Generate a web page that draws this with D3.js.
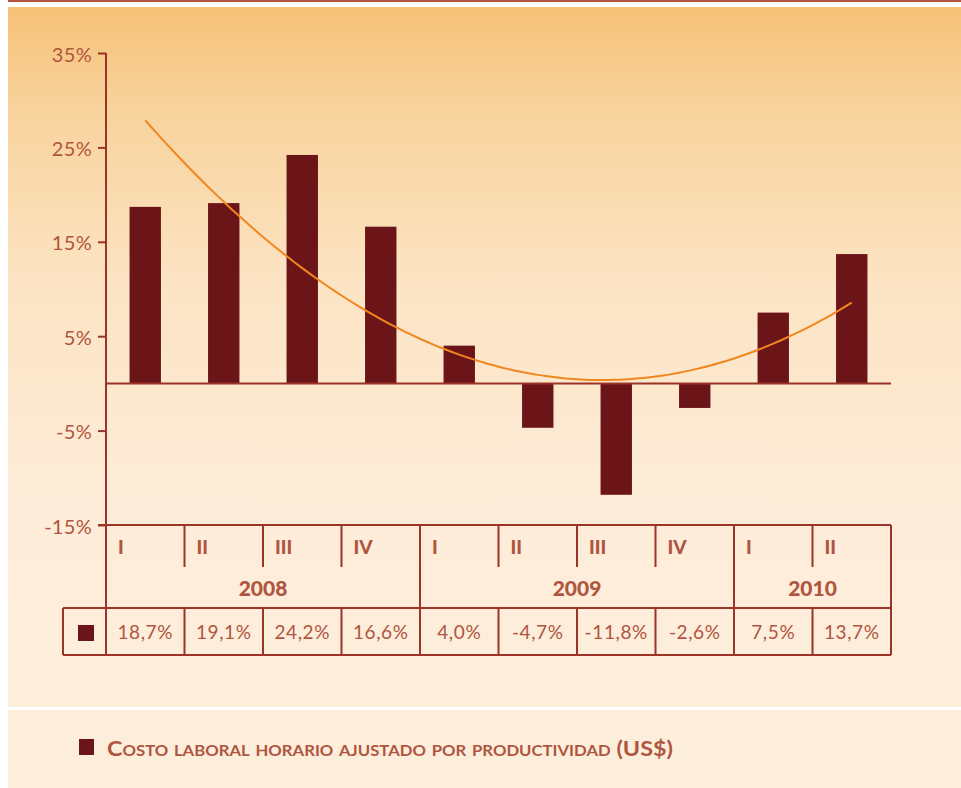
<!DOCTYPE html>
<html>
<head>
<meta charset="utf-8">
<script src="https://cdn.jsdelivr.net/npm/d3@7"></script>
<style>
  body { margin: 0; background: #fff; }
  svg { display: block; }
  text { font-family: Lato, "Open Sans", sans-serif; }
</style>
</head>
<body>
<script>
// chart data
const quarters = ["I", "II", "III", "IV", "I", "II", "III", "IV", "I", "II"];
const years = ["2008", "2008", "2008", "2008", "2009", "2009", "2009", "2009", "2010", "2010"];
const values = [18.7, 19.1, 24.2, 16.6, 4.0, -4.7, -11.8, -2.6, 7.5, 13.7];
const yTicks = [-15, -5, 5, 15, 25, 35];
const legendLabel = "Costo laboral horario ajustado por productividad (US$)";

const width = 961, height = 788;
const barColor = "#6b1519", lineColor = "#9b3328", textColor = "#b0553f";

const svg = d3.select("body").append("svg")
  .attr("width", width)
  .attr("height", height);

// background panels
const grad = svg.append("defs").append("linearGradient")
  .attr("id", "bg").attr("x1", 0).attr("x2", 0).attr("y1", 0).attr("y2", 1);
grad.append("stop").attr("offset", "0%").attr("stop-color", "#f6c177");
grad.append("stop").attr("offset", "15%").attr("stop-color", "#f8d39d");
grad.append("stop").attr("offset", "40%").attr("stop-color", "#fce4c4");
grad.append("stop").attr("offset", "70%").attr("stop-color", "#fdecd8");
grad.append("stop").attr("offset", "100%").attr("stop-color", "#fdeedc");

svg.append("rect").attr("x", 8).attr("y", 0).attr("width", width - 8).attr("height", 2)
  .attr("fill", "#b5533f");
svg.append("rect").attr("x", 8).attr("y", 7).attr("width", width - 8).attr("height", 700)
  .attr("fill", "url(#bg)");
svg.append("rect").attr("x", 8).attr("y", 710).attr("width", width - 8).attr("height", 78)
  .attr("fill", "#fdeedc");

// scales
const idx = d3.range(values.length);
const x = d3.scaleBand().domain(idx).range([106, 891]);
const y = d3.scaleLinear().domain([-15, 35]).range([525, 53]);
const barW = x.bandwidth() * 0.4;

// y axis
const yAxis = svg.append("g")
  .attr("transform", "translate(106,0)")
  .call(d3.axisLeft(y).tickValues(yTicks).tickSize(8).tickPadding(6)
    .tickFormat(d => d + "%"));
yAxis.select(".domain").remove();
yAxis.selectAll(".tick line").attr("stroke", lineColor).attr("stroke-width", 2);
yAxis.selectAll(".tick text")
  .attr("fill", textColor).attr("font-size", 20).attr("dy", "0.4em")
  .style("letter-spacing", "0.3px");

// bars
svg.append("g").selectAll("rect")
  .data(values)
  .join("rect")
  .attr("x", (d, i) => x(i) + (x.bandwidth() - barW) / 2)
  .attr("y", d => y(Math.max(0, d)))
  .attr("width", barW)
  .attr("height", d => Math.abs(y(d) - y(0)))
  .attr("fill", barColor);

// zero line
svg.append("line")
  .attr("x1", 106).attr("x2", 891).attr("y1", y(0)).attr("y2", y(0))
  .attr("stroke", lineColor).attr("stroke-width", 2);

// polynomial (order 2) trend line, least squares on the values
const n = values.length;
const tx = idx.map(i => i + 1);
const mt = d3.mean(tx), my = d3.mean(values);
const t = tx.map(v => v - mt);
const mt2 = d3.mean(t, v => v * v);
const u = t.map(v => v * v - mt2);
const b = d3.sum(t, (v, i) => v * values[i]) / d3.sum(t, v => v * v);
const c = d3.sum(u, (v, i) => v * values[i]) / d3.sum(u, v => v * v);
const fit = k => my + b * (k - mt) + c * ((k - mt) * (k - mt) - mt2);
const trend = d3.range(1, n + 0.001, 0.1).map(k => [k, fit(k)]);
const kx = d3.scaleLinear().domain([1, n])
  .range([x(0) + x.bandwidth() / 2, x(n - 1) + x.bandwidth() / 2]);

svg.append("path")
  .datum(trend)
  .attr("fill", "none")
  .attr("stroke", "#f2861e")
  .attr("stroke-width", 2)
  .attr("d", d3.line().x(d => kx(d[0])).y(d => y(d[1])).curve(d3.curveBasis));

// category table
const g = svg.append("g").attr("stroke", lineColor).attr("stroke-width", 2);
const tTop = 525, qBottom = 567, rowTop = 608, rowBottom = 655;

g.append("line").attr("x1", 106).attr("x2", 106).attr("y1", 53).attr("y2", rowBottom);
g.append("line").attr("x1", 98).attr("x2", 891).attr("y1", tTop).attr("y2", tTop);
g.append("line").attr("x1", 891).attr("x2", 891).attr("y1", tTop).attr("y2", rowBottom);
g.append("line").attr("x1", 63).attr("x2", 891).attr("y1", rowTop).attr("y2", rowTop);
g.append("line").attr("x1", 63).attr("x2", 891).attr("y1", rowBottom).attr("y2", rowBottom);
g.append("line").attr("x1", 63).attr("x2", 63).attr("y1", rowTop).attr("y2", rowBottom);

idx.slice(1).forEach(i => {
  const full = years[i] !== years[i - 1];
  g.append("line").attr("x1", x(i)).attr("x2", x(i))
    .attr("y1", tTop).attr("y2", full ? rowBottom : qBottom);
  if (!full) {
    g.append("line").attr("x1", x(i)).attr("x2", x(i))
      .attr("y1", rowTop).attr("y2", rowBottom);
  }
});

svg.append("g").selectAll("text")
  .data(quarters)
  .join("text")
  .attr("x", (d, i) => x(i) + 12)
  .attr("y", 554)
  .attr("fill", textColor)
  .attr("font-size", 19)
  .attr("font-weight", 900)
  .text(d => d);

const yearGroups = d3.groups(idx, i => years[i]);
svg.append("g").selectAll("text")
  .data(yearGroups)
  .join("text")
  .attr("x", d => (x(d[1][0]) + x(d[1][d[1].length - 1]) + x.bandwidth()) / 2)
  .attr("y", 596)
  .attr("text-anchor", "middle")
  .attr("fill", textColor)
  .attr("font-size", 21)
  .attr("font-weight", 900)
  .text(d => d[0]);

svg.append("g").selectAll("text")
  .data(values)
  .join("text")
  .attr("x", (d, i) => x(i) + x.bandwidth() / 2)
  .attr("y", 639)
  .attr("text-anchor", "middle")
  .attr("fill", textColor)
  .attr("font-size", 19)
  .style("letter-spacing", "0.6px")
  .text(d => d.toFixed(1).replace(".", ",") + "%");

svg.append("rect").attr("x", 78).attr("y", 625).attr("width", 16).attr("height", 16)
  .attr("fill", barColor);

// legend
svg.append("rect").attr("x", 79).attr("y", 739).attr("width", 15).attr("height", 16)
  .attr("fill", barColor);
svg.append("text")
  .attr("x", 107).attr("y", 756)
  .attr("fill", textColor)
  .attr("font-size", 21)
  .attr("font-weight", "bold")
  .style("font-variant", "small-caps")
  .attr("textLength", 566)
  .attr("lengthAdjust", "spacingAndGlyphs")
  .text(legendLabel);
</script>
</body>
</html>
